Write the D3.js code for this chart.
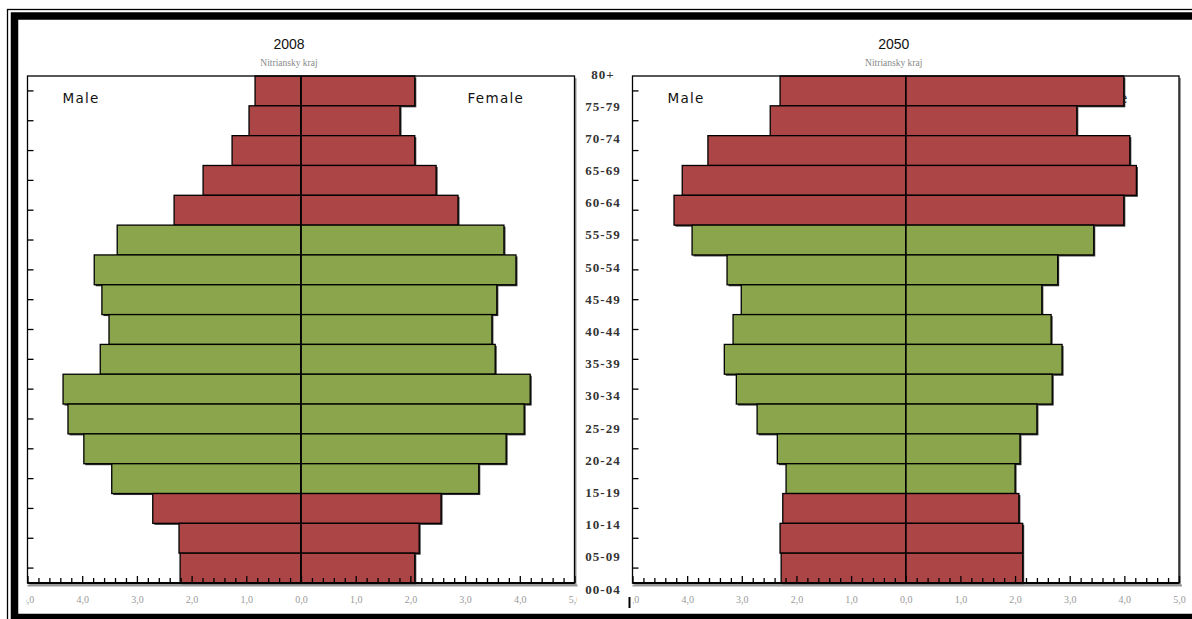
<!DOCTYPE html>
<html>
<head>
<meta charset="utf-8">
<script src="https://cdn.jsdelivr.net/npm/d3@7"></script>
<style>
  html, body { margin: 0; padding: 0; background: #fff; }
  svg { display: block; }
</style>
</head>
<body>
<svg id="chart" width="1192" height="619"></svg>
<script>
// ---- data ----
const ages = ["80+","75-79","70-74","65-69","60-64","55-59","50-54","45-49","40-44","35-39","30-34","25-29","20-24","15-19","10-14","05-09","00-04"];
const workingAges = ["55-59","50-54","45-49","40-44","35-39","30-34","25-29","20-24","15-19"];

const male2008   = [0.84,0.95,1.26,1.79,2.32,3.36,3.78,3.64,3.51,3.67,4.35,4.26,3.97,3.46,2.71,2.23,2.21];
const female2008 = [2.08,1.81,2.08,2.47,2.87,3.71,3.93,3.58,3.49,3.55,4.19,4.08,3.75,3.25,2.56,2.16,2.08];
const male2050   = [2.30,2.48,3.62,4.09,4.24,3.91,3.27,3.01,3.16,3.32,3.10,2.72,2.35,2.19,2.25,2.30,2.28];
const female2050 = [3.99,3.13,4.10,4.22,3.99,3.44,2.78,2.49,2.66,2.86,2.68,2.40,2.09,2.00,2.07,2.14,2.14];

const xTickValues = [-5,-4,-3,-2,-1,0,1,2,3,4,5];
const xTickLabels = ["5,0","4,0","3,0","2,0","1,0","0,0","1,0","2,0","3,0","4,0","5,0"];
const titles = ["2008","2050"];
const subtitle = "Nitriansky kraj";
const legendLabels = ["Male","Female"];

// ---- setup ----
const svg = d3.select("#chart");
const RED = "#AC4545", GREEN = "#8AA54C";
const topY = 76, bottomY = 583;

const yBand = d3.scaleBand().domain(ages).range([topY, bottomY]).padding(0);

const panels = [
  { title: titles[0], male: male2008, female: female2008, x0: 27.5, x1: 574.5, clip: [26, 577] },
  { title: titles[1], male: male2050, female: female2050, x0: 632.5, x1: 1179, clip: [633, 1192] }
];

const defs = svg.append("defs");

panels.forEach((p, i) => {
  const x = d3.scaleLinear().domain([-5, 5]).range([p.x0, p.x1]);
  const g = svg.append("g");
  const cx = x(0);

  // title
  g.append("text").attr("x", cx - 12).attr("y", 49).attr("text-anchor", "middle")
    .attr("font-family", "Liberation Sans, Arial, sans-serif").attr("font-size", 14).attr("fill", "#111")
    .text(p.title);
  g.append("text").attr("x", cx - 12).attr("y", 66).attr("text-anchor", "middle")
    .attr("font-family", "Liberation Serif, Times New Roman, serif").attr("font-size", 9.5).attr("fill", "#888")
    .text(subtitle);

  // box shadow + background
  g.append("rect").attr("x", p.x0 + 2).attr("y", topY + 2).attr("width", p.x1 - p.x0).attr("height", bottomY - topY)
    .attr("fill", "#999");
  g.append("rect").attr("x", p.x0).attr("y", topY).attr("width", p.x1 - p.x0).attr("height", bottomY - topY)
    .attr("fill", "#fff");

  // legend texts (drawn before bars)
  g.append("text").attr("x", p.x0 + 35).attr("y", 103)
    .attr("font-family", "DejaVu Sans, Verdana, sans-serif").attr("font-size", 13.5).attr("letter-spacing", 1.3).attr("fill", "#111")
    .text(legendLabels[0]);
  g.append("text").attr("x", p.x1 - 107).attr("y", 103)
    .attr("font-family", "DejaVu Sans, Verdana, sans-serif").attr("font-size", 13.5).attr("letter-spacing", 1.3).attr("fill", "#111")
    .text(legendLabels[1]);

  const rows = ages.map((a, k) => ({ age: a, m: p.male[k], f: p.female[k] }));
  const colorOf = a => workingAges.includes(a) ? GREEN : RED;

  // shadows
  const sh = g.append("g");
  rows.forEach(r => {
    sh.append("rect").attr("x", x(-r.m) + 1.5).attr("y", yBand(r.age) + 1.5)
      .attr("width", x(0) - x(-r.m)).attr("height", yBand.bandwidth()).attr("fill", "#333");
    sh.append("rect").attr("x", x(0) + 1.5).attr("y", yBand(r.age) + 1.5)
      .attr("width", x(r.f) - x(0)).attr("height", yBand.bandwidth()).attr("fill", "#333");
  });
  // bars
  const bars = g.append("g").attr("stroke", "#000").attr("stroke-width", 1.3);
  rows.forEach(r => {
    bars.append("rect").attr("x", x(-r.m)).attr("y", yBand(r.age))
      .attr("width", x(0) - x(-r.m)).attr("height", yBand.bandwidth()).attr("fill", colorOf(r.age));
    bars.append("rect").attr("x", x(0)).attr("y", yBand(r.age))
      .attr("width", x(r.f) - x(0)).attr("height", yBand.bandwidth()).attr("fill", colorOf(r.age));
  });

  // center line
  g.append("line").attr("x1", cx).attr("x2", cx).attr("y1", topY).attr("y2", bottomY)
    .attr("stroke", "#000").attr("stroke-width", 1.5);

  // box outline
  g.append("rect").attr("x", p.x0).attr("y", topY).attr("width", p.x1 - p.x0).attr("height", bottomY - topY)
    .attr("fill", "none").attr("stroke", "#000").attr("stroke-width", 1.3);

  // x axis: shadow line, line, ticks
  g.append("line").attr("x1", p.x0).attr("x2", p.x1 + 3).attr("y1", bottomY + 2.5).attr("y2", bottomY + 2.5)
    .attr("stroke", "#999").attr("stroke-width", 2);
  g.append("line").attr("x1", p.x0).attr("x2", p.x1).attr("y1", bottomY).attr("y2", bottomY)
    .attr("stroke", "#000").attr("stroke-width", 2);
  const minorTicks = d3.range(-25, 26).map(v => v / 5).filter(v => Math.abs(v - Math.round(v)) > 1e-6);
  const majAxis = d3.axisBottom(x).tickValues(xTickValues).tickSize(-7).tickFormat("");
  const minAxis = d3.axisBottom(x).tickValues(minorTicks).tickSize(-5).tickFormat("");
  [majAxis, minAxis].forEach(ax => {
    const ga = g.append("g").attr("transform", `translate(0,${bottomY})`).call(ax);
    ga.select(".domain").remove();
    ga.selectAll(".tick line").attr("stroke", "#000").attr("stroke-width", 1.3);
  });

  // tick labels, clipped (clip rect in the group's local coordinates)
  defs.append("clipPath").attr("id", "clip" + i).append("rect")
    .attr("x", p.clip[0]).attr("y", 2).attr("width", p.clip[1] - p.clip[0]).attr("height", 30);
  const lab = g.append("g").attr("clip-path", `url(#clip${i})`)
    .attr("transform", `translate(0,${bottomY})`)
    .call(d3.axisBottom(x).tickValues(xTickValues).tickSize(0).tickPadding(13)
      .tickFormat((d, k) => xTickLabels[k]));
  lab.select(".domain").remove();
  lab.selectAll("text").attr("font-family", "Liberation Serif, Times New Roman, serif")
    .attr("font-size", 10).attr("fill", "#999");

  // y ticks at band centers on left edge
  g.append("g").selectAll("line").data(ages).join("line")
    .attr("x1", p.x0).attr("x2", p.x0 + 6)
    .attr("y1", d => yBand(d) + yBand.bandwidth() / 2).attr("y2", d => yBand(d) + yBand.bandwidth() / 2)
    .attr("stroke", "#000").attr("stroke-width", 1.3);
});

// age labels in the middle
const yLab = d3.scalePoint().domain(ages).range([74, 589]);
svg.append("g").selectAll("text").data(ages).join("text")
  .attr("x", 603).attr("y", d => yLab(d)).attr("dy", "0.35em").attr("text-anchor", "middle")
  .attr("font-family", "Liberation Serif, Times New Roman, serif").attr("font-weight", "bold")
  .attr("font-size", 13).attr("letter-spacing", 1).attr("fill", "#333")
  .text(d => d);

// small stray mark
svg.append("line").attr("x1", 629.5).attr("x2", 629.5).attr("y1", 597).attr("y2", 608)
  .attr("stroke", "#000").attr("stroke-width", 2);

// outer frame
svg.append("rect").attr("x", 7.5).attr("y", 9.5).attr("width", 1300).attr("height", 1000)
  .attr("fill", "none").attr("stroke", "#000").attr("stroke-width", 1.3);
svg.append("rect").attr("x", 14.5).attr("y", 16).attr("width", 1300).attr("height", 601.5)
  .attr("fill", "none").attr("stroke", "#000").attr("stroke-width", 7.5);
</script>
</body>
</html>
